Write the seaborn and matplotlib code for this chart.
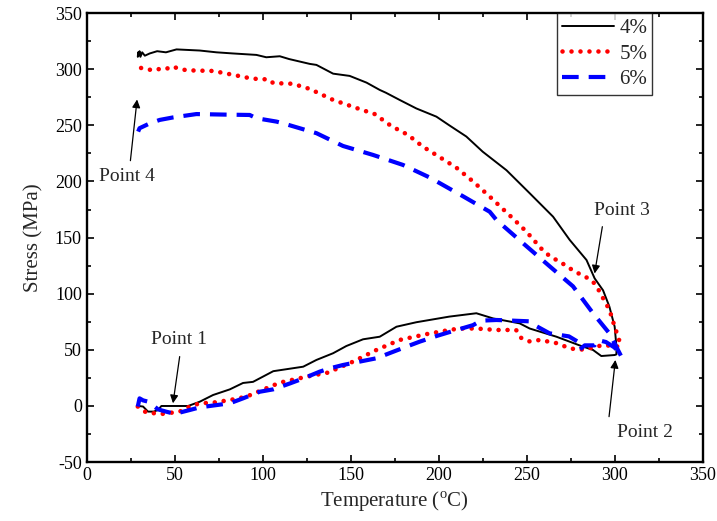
import numpy as np
import pandas as pd
import matplotlib
matplotlib.use("Agg")
import matplotlib.pyplot as plt
import seaborn as sns
from matplotlib.ticker import MultipleLocator

# ---------------- data ----------------
t4 = [29.5, 32, 34.8, 38, 40.5, 42.4, 57.6, 64.2, 71.8, 81.3, 88.8, 94.5, 106, 123, 130.5, 140,
      147.5, 157, 166.5, 176, 187.3, 206, 221.4, 230.9, 246, 251.7, 266.9, 280, 287.7, 292.4,
      300, 301,
      301, 300, 297, 293.4, 288.6, 284, 274.4, 265, 251.7, 238.5, 225, 215.7, 206, 198.7,
      187.3, 177.8, 170, 166.5, 159, 149.4, 140, 130.5, 126.7, 115, 109.7, 102, 96.4, 83,
      73.7, 64.2, 51, 45, 40, 35.8, 33, 31.5, 30.5, 30, 29.5, 29.2, 29]
s4 = [0, -0.5, -5, -5, -3.6, 0, 0, 3.8, 9.8, 14.8, 20.5, 21.5, 31, 35, 41, 47,
      53.4, 59.4, 61.7, 70.6, 74.6, 79.6, 82.6, 78, 73.6, 69, 61.7, 54, 49.9, 44.5,
      45.4, 46,
      53, 70.6, 88.5, 103, 113.7, 130, 148, 168.6, 189.5, 210, 226.5, 240, 250, 257.7,
      265, 272.6, 279, 281.5, 288, 294, 296, 303.8, 304.7, 309, 311.5, 310.6, 312.7, 314,
      315, 316.6, 317.6, 315, 316, 314, 312, 315, 311, 316, 312, 315, 311]

t5 = [29, 34, 43.4, 52.8, 58.5, 64.2, 71.8, 81.3, 90.7, 109.7, 126.7, 137, 151.3, 164.6,
      177.8, 193, 206, 212, 221.4, 232.7, 244, 247, 251.7, 257.4, 266.9, 274.4, 280, 285.8,
      293.4, 301, 302.8,
      302.5, 301, 299.4, 298, 296, 293.4, 291, 287.7, 283, 278.2, 273.5, 268.8, 264, 259.3,
      250, 242.2, 229, 219.5, 210, 200.6, 191, 182.6, 173, 163.6, 154, 140, 126.7, 117,
      106, 103, 98.3, 92.6, 83, 71.8, 56.6, 48, 45, 40, 37.7, 34, 31, 29, 28.5]
s5 = [-0.5, -6, -7, -5, -0.5, 2.4, 3, 5.3, 8.3, 20.8, 26.7, 29.7, 39.5, 49.9,
      58.8, 64, 67.7, 69, 69, 67.7, 67.7, 60.4, 57.5, 58.8, 56, 51.4, 50, 51.4,
      54.3, 53, 53,
      58.8, 66, 73.6, 81, 88.5, 96, 103, 110.7, 115.5, 119, 123.6, 128.6, 132.4, 138.4,
      155, 167, 186.5, 200, 212.3, 221.6, 231, 241.4, 249.4, 260, 265, 272.6, 282.4, 287,
      287.6, 291, 291, 292, 295, 298.4, 299, 302.4, 300, 300, 299, 300, 301, 302, 300]

t6 = [29, 30, 32, 35, 40.5, 45, 50, 58.5, 64.2, 81.3, 88.8, 98.3, 105.9, 115.3, 123, 132.4,
      138, 145.6, 155, 164.6, 172, 181.6, 189.2, 198.7, 205, 219.5, 224, 232.8, 251.7, 254.5,
      263, 274, 279, 280, 283, 288.6, 290.3, 295, 300, 303.8,
      297, 287.7, 276.3, 263, 247.9, 232.8, 229, 213.8, 194.9, 179.7, 162.7, 145.6, 130.5,
      111.5, 107.8, 96.4, 92.6, 79.4, 62.3, 49, 41.5, 35.8, 30, 29.2]
s6 = [-0.5, 6.8, 5, 3.8, -3, -5, -7, -3.6, -1.2, 2.4, 6.8, 12.7, 14.8, 20, 24.5, 30.6,
      33.5, 36.5, 39.5, 42.5, 47, 52.8, 57.3, 62.3, 65.3, 72, 76, 76.6, 75.4, 72,
      64.7, 62, 57.3, 50, 54, 54, 58.8, 57, 52, 44,
      64.7, 82.6, 106.6, 124.5, 145, 165.7, 173, 186.8, 203.5, 214.7, 223.6, 231.6, 243,
      251.8, 253.3, 256.3, 259.2, 259.5, 260, 257, 254.8, 251.7, 247.4, 244.4]

labels = ["4%", "5%", "6%"]
x_ticks = [0, 50, 100, 150, 200, 250, 300, 350]
y_ticks = [-50, 0, 50, 100, 150, 200, 250, 300, 350]

# annotations: label, text centre, arrow tail, arrow head
notes = [("Point 1", (52.5, 59), (52.8, 44), (49, 2.4)),
         ("Point 2", (317, -23.5), (296.8, -9.5), (300.4, 41)),
         ("Point 3", (304, 174), (293, 159.7), (288.6, 118)),
         ("Point 4", (23, 204), (24.8, 218.5), (28.6, 273))]

# ---------------- plotting ----------------
sns.set_style("ticks")
plt.rcParams["font.family"] = ["Liberation Serif", "DejaVu Serif"]
plt.rcParams["mathtext.fontset"] = "custom"
plt.rcParams["mathtext.rm"] = "Liberation Serif"
plt.rcParams["axes.unicode_minus"] = False

fig = plt.figure(figsize=(7.17, 5.21), dpi=100)
ax = fig.add_axes([0.121, 0.113, 0.859, 0.862])

frames = []
for lab, t, s in zip(labels, [t4, t5, t6], [s4, s5, s6]):
    frames.append(pd.DataFrame({"T": t, "S": s, "series": lab, "order": np.arange(len(t))}))
df = pd.concat(frames, ignore_index=True)

styles = {
    "4%": dict(color="black", linewidth=1.4, linestyle="-"),
    "5%": dict(color="#ff0000", linewidth=3.3, linestyle=(0, (0.01, 1.95)), dash_capstyle="round"),
    "6%": dict(color="#0000ff", linewidth=3.0, linestyle=(0, (4.0, 2.4))),
}
for lab in labels:
    sub = df[df["series"] == lab]
    sns.lineplot(data=sub, x="T", y="S", sort=False, estimator=None, ax=ax,
                 label=lab, **styles[lab])

ax.set_xlim(0, 350)
ax.set_ylim(-50, 350)
ax.set_xticks(x_ticks)
ax.set_yticks(y_ticks)
ax.xaxis.set_minor_locator(MultipleLocator(25))
ax.yaxis.set_minor_locator(MultipleLocator(25))
ax.tick_params(which="both", direction="in", top=True, right=True, labelsize=13,
               width=1.2, colors="black")
ax.tick_params(which="major", length=5)
ax.tick_params(which="minor", length=3)
for sp in ax.spines.values():
    sp.set_linewidth(1.7)
    sp.set_color("black")

ax.set_xlabel(r"Temperature ($^{\rm o}$C)", fontsize=15, labelpad=4)
ax.set_ylabel("Stress (MPa)", fontsize=15, labelpad=8)

for txt, xytext, tail, head in notes:
    ax.text(xytext[0], xytext[1], txt, fontsize=14, ha="center", va="center")
    ax.annotate("", xy=head, xytext=tail,
                arrowprops=dict(arrowstyle="-|>", color="black", lw=0.9,
                                mutation_scale=12, shrinkA=0, shrinkB=0))

leg = ax.legend(loc="upper left", bbox_to_anchor=(0.763, 1.0), borderaxespad=0,
                fontsize=15, frameon=True, fancybox=False, edgecolor="black",
                handlelength=2.5, handletextpad=0.25, labelspacing=0.3,
                borderpad=0.25)
leg.get_frame().set_linewidth(1.0)

fig.savefig("out.png", dpi=100)
